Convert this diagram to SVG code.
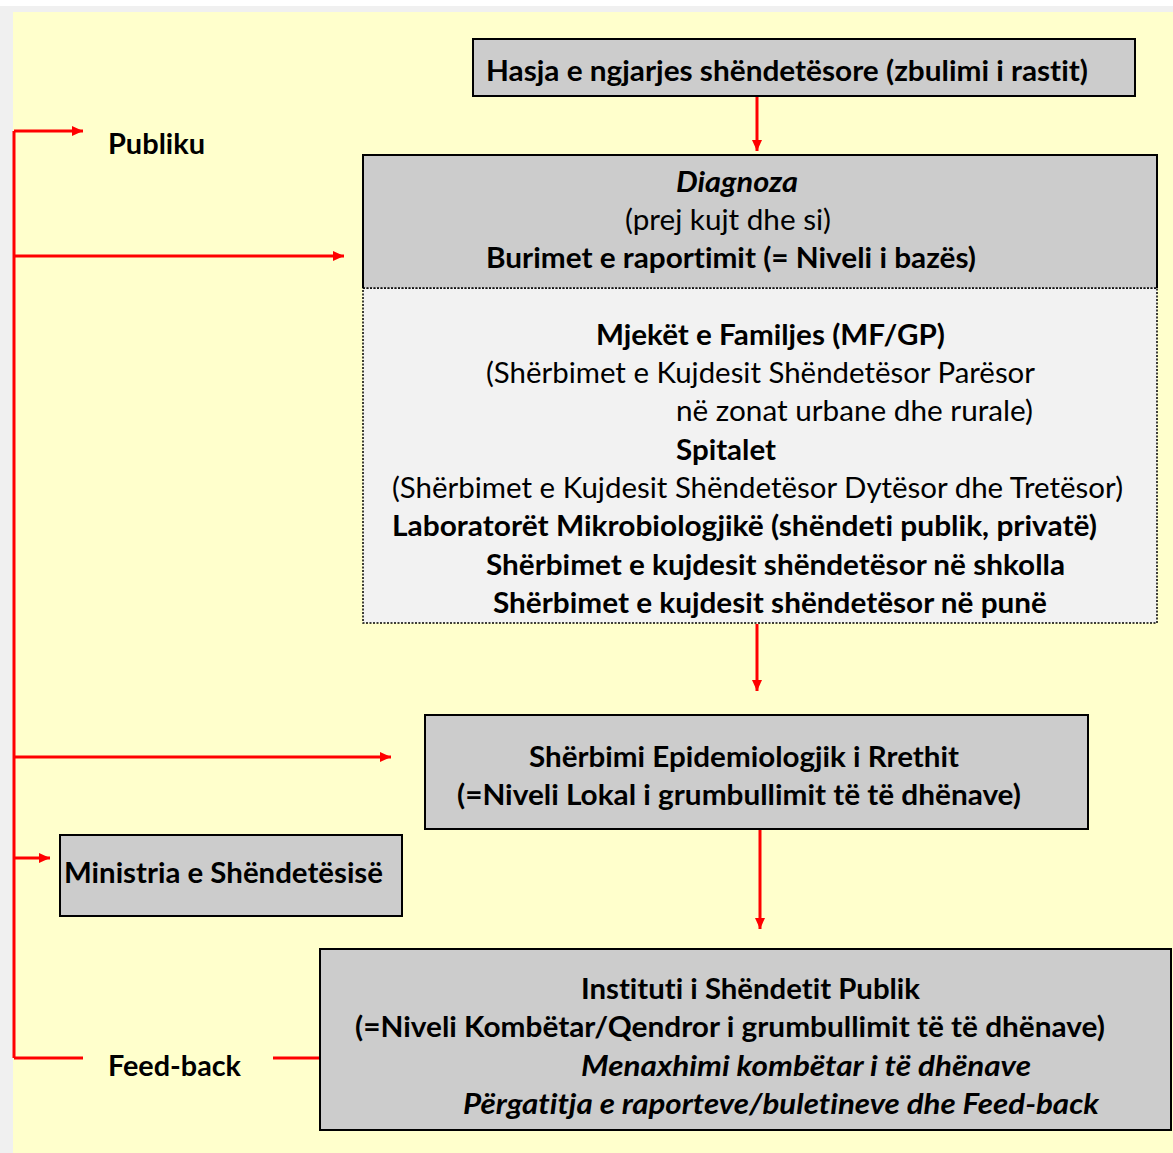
<svg xmlns="http://www.w3.org/2000/svg" width="1173" height="1153" viewBox="0 0 1173 1153">
<style>
text{font-family:Lato,"Open Sans","Liberation Sans",sans-serif;font-size:28px;fill:#000;font-variant-ligatures:none;font-feature-settings:"liga" 0}
.b{font-weight:bold}
.i{font-style:italic}
.box{fill:#cccccc;stroke:#000;stroke-width:2}
.red{stroke:#ff0000;stroke-width:3;fill:none}
.dot{stroke:#000;stroke-width:1.5;stroke-dasharray:2 1.5;fill:none}
</style>
<defs>
<marker id="ah" markerUnits="userSpaceOnUse" markerWidth="12" markerHeight="10" refX="11" refY="5" orient="auto">
<path d="M0,0 L11,5 L0,10 Z" fill="#ff0000"/>
</marker>
</defs>
<rect x="0" y="0" width="1173" height="1153" fill="#ffffff"/>
<rect x="0" y="6" width="1173" height="1147" fill="#f0f0f0"/>
<rect x="13" y="12" width="1160" height="1141" fill="#ffffcc"/>

<g id="connectors">
<path class="red" d="M14,131 V1058"/>
<path class="red" d="M14,131 H83" marker-end="url(#ah)"/>
<path class="red" d="M14,256 H344" marker-end="url(#ah)"/>
<path class="red" d="M14,757 H391" marker-end="url(#ah)"/>
<path class="red" d="M14,858 H50" marker-end="url(#ah)"/>
<path class="red" d="M14,1058 H83"/>
<path class="red" d="M273,1058 H320"/>
<path class="red" d="M757,96 V151" marker-end="url(#ah)"/>
<path class="red" d="M757,624 V691" marker-end="url(#ah)"/>
<path class="red" d="M760,829 V929" marker-end="url(#ah)"/>
</g>

<g id="publiku">
<text class="b" x="108" y="154" textLength="97" lengthAdjust="spacingAndGlyphs">Publiku</text>
</g>

<g id="hasja">
<rect class="box" x="473" y="39" width="662" height="57"/>
<text class="b" x="486" y="81" textLength="602" lengthAdjust="spacingAndGlyphs">Hasja e ngjarjes shëndetësore (zbulimi i rastit)</text>
</g>

<g id="diagnoza">
<rect x="363" y="288" width="794" height="335" fill="#f2f2f2"/>
<rect class="dot" x="363" y="288" width="794" height="335"/>
<rect x="363" y="155" width="794" height="133" fill="#cccccc"/>
<path d="M363,288 V155 H1157 V288" fill="none" stroke="#000" stroke-width="2"/>
<path class="dot" d="M363,288 H1157"/>
<text class="b i" x="676" y="192" textLength="122" lengthAdjust="spacingAndGlyphs">Diagnoza</text>
<text x="625" y="230" textLength="206" lengthAdjust="spacingAndGlyphs">(prej kujt dhe si)</text>
<text class="b" x="486" y="268" textLength="490" lengthAdjust="spacingAndGlyphs">Burimet e raportimit (= Niveli i bazës)</text>
<text class="b" x="596" y="345" textLength="349" lengthAdjust="spacingAndGlyphs">Mjekët e Familjes (MF/GP)</text>
<text x="486" y="383" textLength="549" lengthAdjust="spacingAndGlyphs">(Shërbimet e Kujdesit Shëndetësor Parësor</text>
<text x="676" y="421" textLength="357" lengthAdjust="spacingAndGlyphs">në zonat urbane dhe rurale)</text>
<text class="b" x="676" y="460" textLength="100" lengthAdjust="spacingAndGlyphs">Spitalet</text>
<text x="392" y="498" textLength="731" lengthAdjust="spacingAndGlyphs">(Shërbimet e Kujdesit Shëndetësor Dytësor dhe Tretësor)</text>
<text class="b" x="392" y="536" textLength="705" lengthAdjust="spacingAndGlyphs">Laboratorët Mikrobiologjikë (shëndeti publik, privatë)</text>
<text class="b" x="486" y="575" textLength="579" lengthAdjust="spacingAndGlyphs">Shërbimet e kujdesit shëndetësor në shkolla</text>
<text class="b" x="493" y="613" textLength="554" lengthAdjust="spacingAndGlyphs">Shërbimet e kujdesit shëndetësor në punë</text>
</g>

<g id="epidemiologjik">
<rect class="box" x="425" y="715" width="663" height="114"/>
<text class="b" x="529" y="767" textLength="430" lengthAdjust="spacingAndGlyphs">Shërbimi Epidemiologjik i Rrethit</text>
<text class="b" x="457" y="805" textLength="564" lengthAdjust="spacingAndGlyphs">(=Niveli Lokal i grumbullimit të të dhënave)</text>
</g>

<g id="ministria">
<rect class="box" x="60" y="835" width="342" height="81"/>
<text class="b" x="64" y="883" textLength="319" lengthAdjust="spacingAndGlyphs">Ministria e Shëndetësisë</text>
</g>

<g id="instituti">
<rect class="box" x="320" y="949" width="851" height="181"/>
<text class="b" x="581" y="999" textLength="339" lengthAdjust="spacingAndGlyphs">Instituti i Shëndetit Publik</text>
<text class="b" x="355" y="1037" textLength="750" lengthAdjust="spacingAndGlyphs">(=Niveli Kombëtar/Qendror i grumbullimit të të dhënave)</text>
<text class="b i" x="581" y="1076" textLength="450" lengthAdjust="spacingAndGlyphs">Menaxhimi kombëtar i të dhënave</text>
<text class="b i" x="463" y="1114" textLength="636" lengthAdjust="spacingAndGlyphs">Përgatitja e raporteve/buletineve dhe Feed-back</text>
</g>

<g id="feedback">
<text class="b" x="108" y="1076" textLength="133" lengthAdjust="spacingAndGlyphs">Feed-back</text>
</g>
</svg>
